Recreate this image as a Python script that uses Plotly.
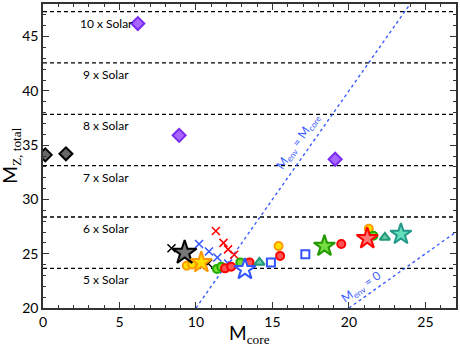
import plotly.graph_objects as go

# ---- data ----
solar_unit = 4.73
solar_multiples = [5, 6, 7, 8, 9, 10]
solar_labels = ["5 x Solar", "6 x Solar", "7 x Solar", "8 x Solar", "9 x Solar", "10 x Solar"]

black_diamond_x = [0.15, 1.5]
black_diamond_y = [34.1, 34.2]
purple_diamond_x = [6.2, 8.9, 19.1]
purple_diamond_y = [46.2, 35.9, 33.7]

black_x_x = [8.4, 10.8]
black_x_y = [25.5, 24.1]
blue_x_x = [10.2, 10.85, 11.4, 12.1]
blue_x_y = [25.9, 25.2, 24.66, 24.1]
red_x_x = [11.3, 11.8, 12.1, 12.5]
red_x_y = [27.1, 26.0, 25.4, 24.9]

orange_circ_x = [9.4, 9.75, 15.4, 21.3]
orange_circ_y = [23.9, 24.0, 25.7, 27.3]
green_circ_x = [11.37, 11.65, 12.9, 21.6]
green_circ_y = [23.6, 23.8, 24.2, 26.65]
red_circ_x = [11.9, 12.3, 13.5, 15.5, 19.5]
red_circ_y = [23.65, 23.8, 24.2, 24.8, 25.9]
blue_sq_x = [14.9, 17.15]
blue_sq_y = [24.2, 24.95]
teal_tri_x = [14.15, 22.35]
teal_tri_y = [24.2, 26.5]

black_star_x = [9.26]; black_star_y = [25.1]
orange_star_x = [10.35]; orange_star_y = [24.2]
blue_star_x = [13.2]; blue_star_y = [23.56]
green_star_x = [18.4]; green_star_y = [25.7]
red_star_x = [21.2]; red_star_y = [26.4]
teal_star_x = [23.4]; teal_star_y = [26.8]

x_range = [0, 27]
y_range = [20, 48]

fig = go.Figure()

# solar lines
for m in solar_multiples:
    fig.add_trace(go.Scatter(x=x_range, y=[m * solar_unit] * 2, mode="lines",
                             line=dict(color="black", width=1.3, dash="4px,3px"),
                             hoverinfo="skip", showlegend=False))
for m, lab in zip(solar_multiples, solar_labels):
    fig.add_annotation(x=4.15, y=m * solar_unit, text=lab, showarrow=False,
                       yanchor="top", yshift=-2,
                       font=dict(family="Lato, Open Sans, sans-serif", size=12, color="black"))

# diagonal lines: M_env = M_core (y = 2x), M_env = 0 (y = x)
diag_x = [10, 24]
fig.add_trace(go.Scatter(x=diag_x, y=[2 * v for v in diag_x], mode="lines",
                         line=dict(color="#3a5cff", width=1.4, dash="3px,3px"),
                         hoverinfo="skip", showlegend=False))
diag2_x = [20, 27]
fig.add_trace(go.Scatter(x=diag2_x, y=diag2_x, mode="lines",
                         line=dict(color="#3a5cff", width=1.4, dash="3px,3px"),
                         hoverinfo="skip", showlegend=False))
fig.add_annotation(x=16.7, y=35.3, text="M<sub>env</sub> = M<sub>core</sub>", showarrow=False,
                   textangle=-55, font=dict(family="Lato, sans-serif", size=12, color="#3a5cff"))
fig.add_annotation(x=20.8, y=21.9, text="M<sub>env</sub> = 0", showarrow=False,
                   textangle=-35, font=dict(family="Lato, sans-serif", size=12, color="#3a5cff"))


def add(x, y, symbol, size, fill, line_color, lw=2):
    fig.add_trace(go.Scatter(x=x, y=y, mode="markers", showlegend=False,
                             marker=dict(symbol=symbol, size=size, color=fill,
                                         line=dict(color=line_color, width=lw))))


add(black_diamond_x, black_diamond_y, "diamond", 10, "#666666", "black")
add(purple_diamond_x, purple_diamond_y, "diamond", 10, "#a866ff", "#7a2cf0")
add(black_x_x, black_x_y, "x-thin", 8, "black", "black", 1.5)
add(blue_x_x, blue_x_y, "x-thin", 8, "#3355ff", "#3355ff", 1.5)
add(red_x_x, red_x_y, "x-thin", 8, "red", "red", 1.5)
add(orange_circ_x, orange_circ_y, "circle", 8, "#ffe000", "#ff9900")
add(green_circ_x, green_circ_y, "circle", 8, "#77dd33", "#22aa00")
add(red_circ_x, red_circ_y, "circle", 8, "#ff5555", "red")
add(blue_sq_x, blue_sq_y, "square-open", 8, "#3355ff", "#3355ff")
add(teal_tri_x, teal_tri_y, "triangle-up", 9, "#66ccaa", "#229977")
add(black_star_x, black_star_y, "star", 18, "#777777", "black")
add(orange_star_x, orange_star_y, "star", 16, "#ffe000", "#ff9900")
add(blue_star_x, blue_star_y, "star", 16, "white", "#3355ff")
add(green_star_x, green_star_y, "star", 16, "#77dd44", "#229900")
add(red_star_x, red_star_y, "star", 16, "#ff7777", "red")
add(teal_star_x, teal_star_y, "star", 16, "#66ddbb", "#229988")

axis_common = dict(showline=True, linecolor="#333333", linewidth=1.5, mirror="allticks",
                   ticks="inside", ticklen=6, tickwidth=1.3, tickcolor="#333333",
                   showgrid=False, zeroline=False, automargin=False,
                   minor=dict(ticks="inside", ticklen=3, tickwidth=1, tickcolor="#333333", dtick=1),
                   tickfont=dict(family="Lato, Open Sans, sans-serif", size=14, color="black"))

fig.update_xaxes(range=x_range, dtick=5, tick0=0, **axis_common)
fig.update_yaxes(range=y_range, dtick=5, tick0=0, **axis_common)

serif = "<span style='font-family:Liberation Serif'>%s</span>"
fig.add_annotation(xref="paper", yref="paper", x=0.5, y=-0.035, yanchor="top",
                   text="M<sub>" + serif % "core" + "</sub>", showarrow=False,
                   font=dict(family="Lato, sans-serif", size=19, color="black"))
fig.add_annotation(xref="paper", yref="paper", x=-0.042, y=0.5, xanchor="right",
                   text="M<sub>" + serif % "Z, total" + "</sub>", showarrow=False, textangle=-90,
                   font=dict(family="Lato, sans-serif", size=19, color="black"))

fig.update_layout(width=460, height=347, margin=dict(l=43, r=4, t=4, b=39),
                  plot_bgcolor="white", paper_bgcolor="white")

fig.write_html("out.html", config={"displayModeBar": False},
               post_script="document.body.style.margin='0';")
